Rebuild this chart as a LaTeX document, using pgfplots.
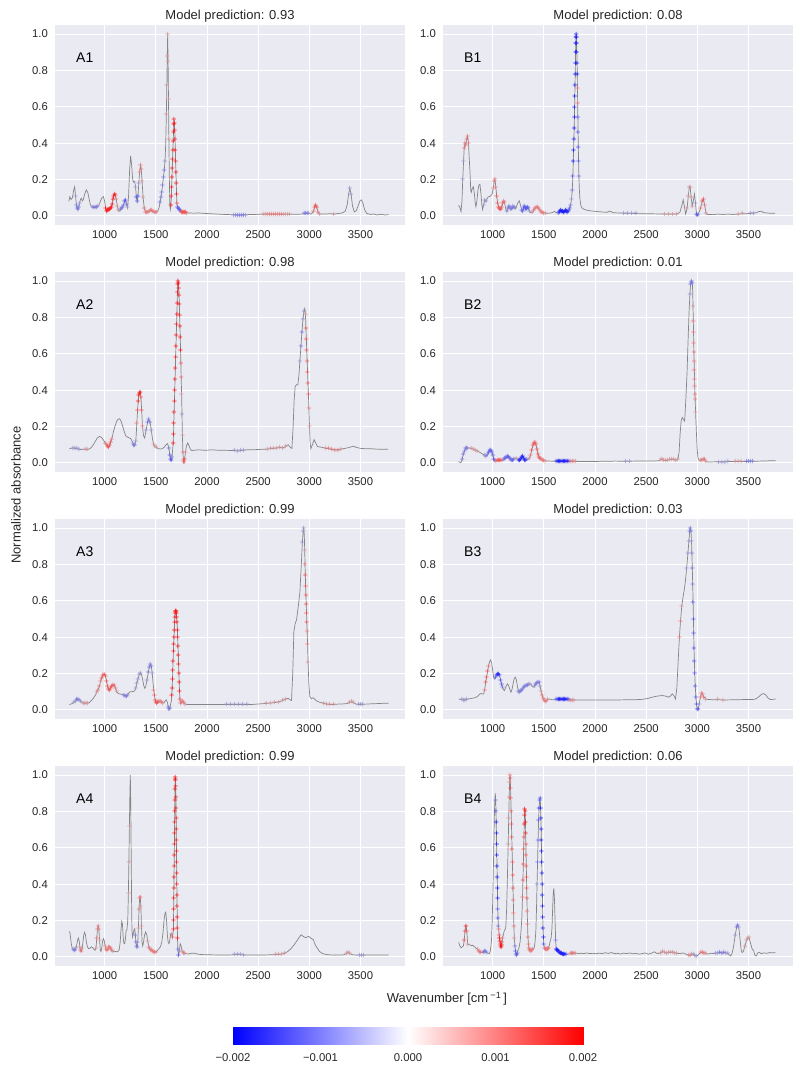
\documentclass[border=0pt]{standalone}
\usepackage{fontspec}
\setmainfont{Liberation Sans}
\usepackage{pgfplots}
\usepackage{pgfplotstable}
\pgfplotsset{compat=1.18}

\definecolor{sbg}{HTML}{EAEAF2}
\definecolor{txt}{HTML}{262626}
\definecolor{specgray}{HTML}{858585}
% attribution colours as they show over the grey spectrum line
\definecolor{bA}{RGB}{20,20,250}
\definecolor{bB}{RGB}{85,85,240}
\definecolor{bC}{RGB}{120,118,225}
\definecolor{bD}{RGB}{152,148,205}
\definecolor{rD}{RGB}{212,148,152}
\definecolor{rC}{RGB}{234,118,120}
\definecolor{rB}{RGB}{242,82,82}
\definecolor{rA}{RGB}{252,18,18}

% spectra: wavenumber, normalized absorbance, attribution (units of 1e-3)
\pgfplotstableread{
x y c
650 0.080 0
660 0.105 0
672 0.090 0
685 0.100 0
697 0.140 0
707 0.160 0
716 0.110 -0.4
724 0.060 -0.8
732 0.040 -0.9
740 0.034 -0.9
748 0.045 -0.8
756 0.070 -0.5
764 0.090 0
772 0.097 0
782 0.082 0
792 0.090 0
805 0.120 0
821 0.143 0
835 0.130 0
848 0.095 0
860 0.062 0
872 0.050 0
884 0.047 -0.4
896 0.046 -0.6
908 0.048 -0.6
920 0.050 -0.6
932 0.052 -0.5
945 0.060 0
958 0.080 0
972 0.098 0
988 0.106 0
1000 0.080 0
1010 0.040 1.5
1018 0.028 2
1026 0.030 2
1034 0.032 2
1042 0.035 2
1050 0.038 2
1058 0.042 2
1066 0.050 2
1074 0.065 2
1082 0.090 2
1090 0.110 2
1098 0.120 1.6
1106 0.112 1.2
1114 0.090 0.8
1124 0.055 0.5
1134 0.030 0.3
1144 0.026 0
1154 0.036 -0.6
1164 0.042 -0.8
1174 0.046 -0.9
1184 0.060 -0.9
1194 0.080 -1
1204 0.088 -1
1214 0.065 -0.8
1224 0.045 -0.4
1234 0.110 0
1244 0.250 0
1254 0.330 0
1264 0.280 0
1274 0.200 0
1284 0.185 0
1294 0.190 0
1302 0.160 -0.4
1310 0.105 -1
1318 0.080 -1.2
1326 0.110 -1
1334 0.180 -0.3
1342 0.240 0.6
1350 0.277 0.8
1358 0.255 0.7
1366 0.190 0.5
1376 0.100 0.3
1388 0.040 0.6
1400 0.022 0.8
1412 0.018 0.8
1424 0.022 0.8
1436 0.028 0.8
1448 0.033 0.8
1460 0.030 0.8
1472 0.024 0.8
1484 0.020 0.8
1496 0.020 0.7
1508 0.022 0.5
1520 0.028 0
1532 0.045 0
1542 0.075 -0.6
1550 0.100 -0.8
1558 0.130 -0.8
1566 0.170 -0.8
1574 0.210 -0.8
1582 0.250 -0.7
1590 0.300 -0.5
1597 0.400 0
1603 0.560 0.5
1608 0.720 0.5
1612 0.880 0.5
1616 1.000 0.4
1620 0.850 0.4
1624 0.640 0.4
1628 0.420 0.3
1632 0.220 0
1637 0.060 0
1642 0.035 0
1648 0.060 2
1652 0.110 2
1655 0.160 2
1658 0.210 2
1661 0.260 2
1664 0.310 2
1667 0.360 2
1670 0.410 2
1673 0.460 2
1676 0.505 2
1679 0.530 2
1682 0.510 2
1685 0.470 2
1688 0.420 2
1691 0.360 2
1694 0.300 2
1697 0.240 2
1700 0.180 2
1703 0.120 2
1706 0.070 1
1712 0.045 -1
1720 0.040 -1.2
1728 0.038 -1.2
1736 0.032 -1
1744 0.026 0.6
1752 0.022 1.2
1760 0.020 1.2
1768 0.020 1.2
1776 0.020 1.2
1784 0.019 1.2
1792 0.018 1
1800 0.017 0.6
1830 0.016 0
1870 0.015 0
1920 0.016 0
1970 0.014 0
2030 0.012 0
2100 0.010 0
2170 0.008 0
2230 0.007 0
2260 0.006 -0.5
2280 0.006 -0.6
2300 0.005 -0.7
2320 0.005 -0.7
2340 0.006 -0.7
2360 0.006 -0.6
2380 0.006 -0.5
2420 0.008 0
2470 0.008 0
2520 0.009 0
2550 0.009 0.4
2570 0.010 0.5
2590 0.010 0.6
2610 0.010 0.6
2630 0.009 0.6
2650 0.010 0.6
2670 0.009 0.6
2690 0.010 0.6
2710 0.009 0.6
2730 0.008 0.6
2750 0.009 0.5
2770 0.010 0.5
2790 0.009 0.5
2810 0.010 0.4
2840 0.009 0
2880 0.009 0
2920 0.010 0
2950 0.012 -0.6
2965 0.013 -0.7
2980 0.013 -0.7
2995 0.012 -0.5
3020 0.010 0
3040 0.025 0.8
3052 0.048 1
3063 0.060 1
3074 0.045 1
3086 0.020 0.8
3100 0.010 0.4
3150 0.010 0
3200 0.012 0
3240 0.010 0.3
3280 0.013 0
3320 0.016 0
3350 0.025 0
3370 0.060 0
3385 0.125 0
3396 0.152 -0.3
3408 0.120 -0.3
3422 0.055 0
3440 0.022 0
3460 0.030 0
3480 0.060 0
3497 0.085 0
3510 0.088 0
3524 0.070 0
3540 0.035 0
3560 0.014 0
3600 0.008 0
3630 0.011 0
3660 0.005 0
3700 0.009 0
3740 0.005 0
3775 0.007 0
}\tabAone

\pgfplotstableread{
x y c
668 0.060 0
680 0.045 0
691 0.024 0
700 0.080 0
708 0.200 -0.5
716 0.300 -0.5
722 0.370 0.6
730 0.400 0.8
738 0.390 0.8
746 0.420 0.8
756 0.437 0.8
764 0.400 0.6
771 0.320 0
779 0.240 0
786 0.140 0
792 0.130 0
800 0.150 0
811 0.160 0
822 0.120 0
830 0.070 0
837 0.050 0
846 0.080 0
856 0.140 0
866 0.170 0
876 0.174 0
886 0.120 0
895 0.060 0
902 0.035 0
912 0.060 -0.3
924 0.088 -0.3
935 0.080 -0.3
946 0.095 0
957 0.105 0
967 0.106 0
980 0.110 0
995 0.120 0
1005 0.150 0.5
1015 0.190 0.6
1023 0.200 0.6
1031 0.160 0.8
1040 0.110 1
1049 0.070 1.2
1057 0.050 1.2
1065 0.040 1.3
1073 0.035 1.3
1081 0.035 1.3
1090 0.050 1.2
1100 0.070 1
1108 0.080 0.8
1116 0.075 0.6
1124 0.050 0
1132 0.030 0
1140 0.024 -0.5
1150 0.040 -0.7
1160 0.052 -0.8
1170 0.045 -0.8
1180 0.035 -0.8
1190 0.040 -0.8
1200 0.052 -0.7
1210 0.046 -0.6
1220 0.040 -0.5
1232 0.050 0
1245 0.070 0
1260 0.083 0
1272 0.060 0
1284 0.030 -0.8
1294 0.028 -1
1302 0.040 -1.1
1310 0.052 -1.1
1318 0.045 -1.1
1326 0.035 -1.1
1334 0.042 -1.1
1342 0.050 -1
1350 0.040 -0.8
1360 0.025 -0.5
1372 0.018 0
1388 0.020 0.5
1402 0.030 0.8
1414 0.040 0.9
1426 0.048 0.9
1438 0.050 0.9
1450 0.040 0.9
1462 0.030 0.9
1474 0.022 0.9
1486 0.018 0.8
1500 0.016 0.6
1520 0.015 0.3
1545 0.015 0
1570 0.016 0
1590 0.020 0
1605 0.025 0
1620 0.018 0
1640 0.016 -0.8
1650 0.020 -1.6
1658 0.026 -1.8
1666 0.030 -1.8
1674 0.028 -1.8
1682 0.024 -1.8
1690 0.020 -1.8
1698 0.022 -1.8
1706 0.026 -1.8
1714 0.030 -1.8
1722 0.025 -1.8
1730 0.022 -1.6
1738 0.024 -1.4
1746 0.030 -1.2
1754 0.040 -1
1762 0.060 -0.6
1770 0.090 -0.5
1778 0.140 -0.8
1784 0.220 -1.2
1788 0.300 -1.8
1791 0.360 -2
1794 0.420 -2
1797 0.480 -2
1799 0.540 -2
1801 0.600 -2
1803 0.660 -2
1805 0.720 -2
1807 0.780 -2
1809 0.840 -2
1811 0.900 -2
1813 0.950 -2
1815 0.980 -2
1817 1.000 -2
1819 0.985 -2
1821 0.950 -2
1823 0.900 -2
1825 0.840 -2
1827 0.780 -1.6
1829 0.700 0.8
1831 0.620 0.6
1833 0.540 -1.2
1835 0.460 -1.4
1837 0.380 -1.2
1840 0.300 -1
1843 0.220 -0.6
1847 0.150 0
1852 0.100 0
1858 0.070 0
1866 0.050 0
1880 0.040 0
1900 0.035 0
1930 0.030 0
1970 0.027 0
2020 0.024 0
2080 0.021 0
2120 0.020 0
2140 0.026 0
2155 0.024 0
2175 0.018 0
2230 0.016 0
2280 0.015 -0.3
2320 0.014 -0.4
2360 0.014 -0.4
2400 0.013 -0.3
2450 0.012 0
2520 0.012 0
2600 0.011 0
2680 0.010 0.3
2720 0.010 0.5
2760 0.010 0.5
2800 0.010 0.4
2830 0.020 0
2850 0.060 0
2862 0.088 0
2874 0.050 0
2886 0.010 0
2900 0.040 0.3
2912 0.110 0.5
2922 0.155 0.5
2930 0.160 0.5
2940 0.100 0.4
2950 0.055 0.3
2960 0.080 0
2972 0.120 0
2982 0.070 -0.5
2992 0.010 -1
3000 0.002 -1
3010 0.010 -0.5
3030 0.040 0.8
3048 0.080 1
3060 0.090 1
3072 0.060 0.8
3085 0.015 0.5
3100 0.008 0
3150 0.007 0
3200 0.010 0
3250 0.008 0
3300 0.010 0
3350 0.008 0
3400 0.010 0.4
3440 0.012 0.5
3480 0.012 0
3520 0.014 -0.4
3550 0.015 -0.3
3580 0.018 0
3600 0.024 0
3620 0.026 0
3650 0.018 0
3700 0.015 0
3760 0.015 0
}\tabBone

\pgfplotstableread{
x y c
655 0.078 0
670 0.080 0
690 0.082 -0.4
710 0.080 -0.5
730 0.078 -0.5
750 0.076 -0.4
770 0.073 0
790 0.075 0
810 0.075 0.3
830 0.074 0.3
850 0.076 0
870 0.085 0
890 0.100 0
910 0.120 0
930 0.138 0
951 0.146 0
970 0.140 0
990 0.125 0
1005 0.110 0.5
1016 0.100 0.8
1028 0.090 1
1039 0.086 1.2
1050 0.095 1.2
1060 0.115 1
1070 0.130 0.6
1085 0.170 0
1100 0.200 0
1115 0.225 0
1130 0.240 0
1147 0.243 0
1160 0.230 0
1175 0.205 0
1190 0.175 0
1205 0.150 0
1215 0.145 0
1230 0.140 0
1245 0.137 0
1260 0.130 0
1275 0.110 -0.4
1285 0.098 -0.7
1295 0.095 -0.7
1305 0.120 -0.3
1315 0.220 0.8
1322 0.290 1.2
1328 0.340 1.5
1334 0.370 1.6
1341 0.385 1.6
1348 0.390 1.5
1355 0.360 1.3
1362 0.290 1
1370 0.200 0.6
1380 0.150 0
1391 0.137 0
1405 0.180 -0.4
1420 0.225 -0.6
1432 0.238 -0.7
1444 0.225 -0.7
1456 0.180 -0.5
1468 0.130 0
1480 0.100 0.4
1492 0.090 0.5
1505 0.085 0.4
1520 0.080 0
1540 0.076 0
1560 0.078 0
1580 0.085 0
1600 0.100 0
1615 0.106 0
1628 0.080 -0.6
1638 0.040 -1
1646 0.018 -1
1652 0.015 -1
1658 0.030 -0.8
1664 0.070 0
1670 0.110 1.5
1673 0.160 2
1676 0.220 2
1679 0.280 2
1682 0.340 2
1685 0.400 2
1688 0.460 2
1691 0.520 2
1694 0.580 2
1697 0.640 2
1700 0.700 2
1703 0.760 2
1706 0.820 2
1709 0.880 2
1712 0.940 2
1715 0.980 2
1718 1.000 2
1721 0.990 2
1724 0.960 2
1727 0.920 2
1730 0.870 2
1733 0.810 2
1736 0.750 2
1739 0.690 1.8
1742 0.620 1.6
1745 0.550 1.2
1748 0.470 0.8
1752 0.380 0.4
1756 0.270 -0.4
1760 0.150 0.3
1765 0.060 0.8
1770 0.015 1.2
1776 0.002 1.2
1782 0.020 1
1790 0.060 0.5
1800 0.095 0
1812 0.110 0
1825 0.095 0
1838 0.075 0
1850 0.068 0
1880 0.070 0
1920 0.072 0
1960 0.070 0
2000 0.070 0
2050 0.072 0
2100 0.070 0
2150 0.070 0
2200 0.069 0
2240 0.068 0
2270 0.068 -0.3
2300 0.066 -0.5
2330 0.068 -0.5
2360 0.070 -0.4
2390 0.072 0
2430 0.072 0
2470 0.073 0
2510 0.074 0
2550 0.075 0
2590 0.076 0.3
2620 0.078 0.5
2650 0.080 0.5
2680 0.082 0.5
2710 0.085 0.5
2740 0.083 0.4
2770 0.090 0.3
2793 0.100 0
2815 0.085 0
2830 0.080 0
2842 0.200 0
2852 0.350 0
2862 0.420 0
2874 0.430 0
2888 0.430 0
2898 0.480 0
2908 0.560 -0.5
2918 0.640 -0.6
2928 0.720 -0.6
2938 0.790 -0.5
2948 0.835 -0.3
2956 0.850 0
2962 0.820 0.5
2967 0.740 1
2971 0.680 1.2
2975 0.620 1.3
2979 0.560 1.3
2983 0.500 1.3
2987 0.440 1.2
2991 0.380 1
2996 0.300 0.7
3002 0.200 0.4
3008 0.110 0
3015 0.078 0
3030 0.100 0
3047 0.128 0
3062 0.110 0
3080 0.090 0
3100 0.088 0
3130 0.085 0
3160 0.080 0.4
3190 0.078 0.6
3220 0.074 0.6
3250 0.072 0.6
3280 0.072 0.6
3310 0.076 0.4
3350 0.080 0
3390 0.085 0
3430 0.092 0
3460 0.085 0
3500 0.080 0
3550 0.078 0
3600 0.078 0
3650 0.076 0
3700 0.075 0
3770 0.075 0
}\tabAtwo

\pgfplotstableread{
x y c
668 0.008 0
680 0.003 0
691 0.002 0
702 0.020 -0.6
712 0.045 -0.8
724 0.065 -0.8
735 0.078 -0.7
746 0.082 -0.6
756 0.083 -0.4
770 0.082 0
790 0.080 0.3
810 0.076 0.4
830 0.071 0.4
850 0.066 0.3
870 0.060 0
890 0.053 0
905 0.048 0
920 0.040 -0.4
935 0.037 -0.6
950 0.045 -0.8
962 0.058 -1
974 0.068 -1.2
984 0.070 -1.3
994 0.060 -1.4
1004 0.040 -1.4
1012 0.020 -1.2
1020 0.012 -0.8
1032 0.010 0.8
1045 0.014 1.2
1058 0.016 1.2
1070 0.015 1.2
1082 0.012 1
1095 0.014 0.5
1110 0.018 -0.8
1122 0.025 -1
1134 0.030 -1.2
1146 0.034 -1.2
1158 0.032 -1.2
1170 0.025 -1.2
1182 0.016 -1.2
1194 0.012 -1
1206 0.018 -0.6
1218 0.026 0
1230 0.028 0.4
1242 0.022 0
1254 0.014 -1.2
1264 0.012 -1.5
1274 0.020 -1.6
1284 0.030 -1.6
1294 0.035 -1.6
1304 0.028 -1.6
1314 0.016 -1.5
1324 0.012 -1.2
1334 0.018 -0.8
1346 0.020 0
1358 0.024 0.5
1370 0.040 0.9
1382 0.070 1
1394 0.095 1
1404 0.108 1
1414 0.112 1
1424 0.100 1
1434 0.075 1
1444 0.050 1
1454 0.032 1
1464 0.024 1
1476 0.018 0.9
1488 0.015 0.8
1500 0.013 0.6
1515 0.011 0.4
1535 0.010 0
1560 0.010 0
1590 0.009 0
1620 0.009 -0.6
1632 0.009 -1.5
1644 0.009 -1.8
1656 0.009 -1.8
1668 0.009 -1.8
1680 0.009 -1.8
1692 0.009 -1.8
1704 0.009 -1.8
1716 0.009 -1.8
1728 0.009 -1.6
1740 0.009 -1.2
1752 0.008 0.4
1766 0.008 0.6
1780 0.008 0.6
1795 0.008 0.5
1810 0.008 0.3
1840 0.008 0
1900 0.008 0
1960 0.008 0
2020 0.008 0
2080 0.009 0
2140 0.009 0
2200 0.010 0
2260 0.009 0
2300 0.009 -0.3
2340 0.009 -0.3
2380 0.010 0
2440 0.010 0
2500 0.010 0
2560 0.010 0
2600 0.011 0
2625 0.012 0
2645 0.018 0.3
2657 0.020 0.4
2670 0.016 0.3
2690 0.012 0.3
2710 0.014 0.3
2730 0.018 0.4
2750 0.020 0.5
2770 0.018 0.5
2790 0.015 0.5
2810 0.018 0.4
2822 0.060 0
2832 0.160 0
2842 0.230 0
2852 0.250 0
2864 0.240 0
2876 0.230 0
2888 0.350 0
2900 0.500 0
2910 0.680 0
2920 0.840 0
2928 0.930 -0.5
2934 0.980 -0.8
2940 0.995 -0.8
2946 1.000 -0.8
2951 0.990 -0.6
2955 0.940 0
2958 0.860 0.4
2961 0.780 0.6
2963 0.720 0.8
2965 0.660 0.9
2967 0.610 0.9
2969 0.560 0.9
2971 0.510 0.9
2973 0.460 0.9
2975 0.420 0.9
2977 0.380 0.9
2979 0.350 0.8
2983 0.280 0.5
2990 0.180 0
2998 0.080 0
3006 0.030 0
3015 0.016 0
3030 0.012 0.4
3045 0.016 0.6
3058 0.022 0.7
3070 0.020 0.6
3082 0.010 0.4
3095 0.005 0
3130 0.005 0
3170 0.006 0
3210 0.006 -0.3
3240 0.006 -0.5
3270 0.006 -0.5
3300 0.007 -0.4
3340 0.008 0
3370 0.008 0.4
3400 0.008 0.5
3430 0.008 0.4
3460 0.008 0
3480 0.008 -0.6
3500 0.008 -0.8
3520 0.009 -0.8
3540 0.009 -0.6
3570 0.009 0
3620 0.010 0
3680 0.011 0
3720 0.012 0
3765 0.012 0
}\tabBtwo

\pgfplotstableread{
x y c
655 0.030 0
670 0.032 0
685 0.036 0
700 0.042 -0.3
715 0.050 -0.5
728 0.056 -0.6
740 0.058 -0.6
752 0.055 -0.5
765 0.048 -0.3
778 0.042 0
790 0.038 0.3
805 0.036 0.4
820 0.036 0.4
835 0.038 0.3
850 0.040 0
865 0.048 0
880 0.058 0
895 0.068 0
910 0.082 0
922 0.095 0.4
935 0.110 0.6
948 0.130 0.8
960 0.155 0.9
972 0.175 1
985 0.190 1
997 0.195 1
1008 0.185 1
1018 0.160 1
1028 0.130 1
1038 0.112 1
1048 0.110 1
1058 0.120 1
1070 0.130 1
1082 0.137 1
1094 0.135 0.8
1106 0.120 0.6
1118 0.100 0.4
1130 0.092 0
1145 0.088 0
1160 0.086 0
1175 0.086 0
1190 0.080 -0.6
1202 0.077 -0.7
1214 0.076 -0.7
1226 0.082 -0.5
1238 0.095 0
1250 0.100 0
1265 0.100 0
1280 0.102 0
1293 0.104 0
1305 0.120 -0.4
1315 0.145 -0.5
1326 0.170 -0.5
1338 0.195 -0.4
1350 0.204 -0.3
1360 0.195 0
1372 0.165 0
1384 0.130 0
1392 0.119 0
1402 0.130 0
1414 0.165 -0.5
1426 0.205 -0.6
1436 0.235 -0.7
1446 0.250 -0.7
1456 0.240 -0.6
1465 0.200 -0.4
1473 0.150 0
1480 0.110 0.8
1487 0.080 1
1494 0.055 1.2
1502 0.040 1.2
1510 0.035 1.2
1520 0.040 1
1532 0.046 0.9
1544 0.048 0.8
1556 0.044 0.6
1568 0.038 0.4
1580 0.040 0
1592 0.050 0
1603 0.055 0
1614 0.040 0
1622 0.015 -0.6
1630 0.002 -0.8
1638 0.010 -0.6
1646 0.035 0
1652 0.050 0
1657 0.080 1.5
1660 0.120 2
1663 0.170 2
1666 0.220 2
1669 0.270 2
1672 0.320 2
1675 0.360 2
1678 0.400 2
1681 0.440 2
1684 0.480 2
1687 0.510 2
1690 0.530 2
1693 0.540 2
1696 0.545 2
1699 0.540 2
1702 0.530 2
1705 0.510 2
1708 0.480 2
1711 0.440 2
1714 0.400 2
1717 0.350 2
1720 0.300 2
1723 0.250 2
1726 0.200 2
1729 0.150 2
1732 0.100 1.6
1736 0.060 1
1742 0.036 0.6
1752 0.042 0.8
1762 0.045 0.8
1772 0.040 0.6
1785 0.033 0.4
1800 0.030 0
1840 0.030 0
1900 0.030 0
1960 0.030 0
2020 0.030 0
2080 0.030 0
2140 0.030 0
2190 0.030 -0.3
2230 0.030 -0.5
2270 0.030 -0.5
2310 0.030 -0.5
2350 0.030 -0.5
2390 0.030 -0.3
2440 0.030 0
2490 0.032 0
2540 0.034 0
2580 0.036 0.4
2620 0.038 0.5
2660 0.040 0.5
2700 0.044 0.5
2740 0.052 0.5
2770 0.060 0.4
2793 0.064 0
2812 0.055 0
2826 0.052 0
2838 0.200 0
2849 0.430 0
2862 0.475 0
2875 0.495 0
2890 0.560 0
2907 0.640 0
2920 0.780 0
2932 0.920 -0.4
2940 0.985 -0.5
2946 1.000 -0.5
2951 0.960 0
2955 0.880 0.5
2958 0.800 0.9
2961 0.740 1
2964 0.680 1
2967 0.630 1
2970 0.580 1
2973 0.530 1
2976 0.480 1
2979 0.430 0.9
2983 0.360 0.7
2988 0.260 0.4
2995 0.150 0
3005 0.073 0
3020 0.062 0
3037 0.067 0
3055 0.058 0
3075 0.048 0
3103 0.042 0
3140 0.036 0.3
3170 0.032 0.4
3200 0.030 0.4
3240 0.030 0.3
3280 0.032 0
3330 0.033 0
3370 0.035 0
3395 0.042 0.4
3412 0.045 0.5
3430 0.040 0.3
3455 0.032 0
3480 0.030 -0.4
3500 0.030 -0.5
3520 0.031 -0.4
3560 0.032 0
3620 0.034 0
3680 0.035 0
3740 0.037 0
3775 0.036 0
}\tabAthree

\pgfplotstableread{
x y c
668 0.060 0
685 0.058 0
700 0.056 -0.3
715 0.055 -0.4
730 0.055 -0.4
745 0.057 -0.3
760 0.060 0
780 0.062 0
800 0.064 0
820 0.066 0
840 0.070 0
860 0.078 0
876 0.088 0
888 0.090 0
900 0.087 0
912 0.088 0
922 0.110 0.8
932 0.150 1
941 0.180 1
950 0.210 1
960 0.240 0.6
970 0.265 0
980 0.275 0
990 0.260 0
1000 0.220 0
1010 0.180 0
1018 0.170 0
1028 0.180 -1
1038 0.190 -1.4
1048 0.196 -1.5
1058 0.198 -1.5
1068 0.190 -1.4
1078 0.165 -1.2
1088 0.140 -1
1097 0.124 -0.8
1106 0.112 0
1114 0.106 0
1124 0.118 0
1135 0.135 0
1146 0.143 0
1158 0.130 0
1170 0.110 0
1179 0.097 0
1190 0.115 0
1200 0.145 0
1211 0.172 0
1221 0.180 0
1232 0.165 0
1242 0.130 0
1251 0.105 -0.5
1260 0.097 -0.7
1270 0.100 -0.8
1280 0.107 -0.9
1292 0.115 -0.9
1304 0.122 -0.9
1316 0.128 -0.9
1328 0.133 -0.8
1340 0.138 -0.6
1352 0.142 -0.4
1364 0.143 -0.3
1374 0.143 0
1386 0.130 0
1396 0.125 0
1408 0.130 -0.4
1420 0.140 -0.6
1432 0.148 -0.7
1444 0.152 -0.7
1455 0.150 -0.6
1464 0.130 -0.3
1474 0.100 0.5
1484 0.080 0.8
1494 0.062 0.9
1504 0.052 0.9
1514 0.048 0.8
1524 0.050 0.6
1536 0.056 0.4
1550 0.060 0
1565 0.058 0
1585 0.056 0
1605 0.056 0
1620 0.056 -0.6
1632 0.056 -1.2
1644 0.056 -1.5
1656 0.056 -1.6
1668 0.056 -1.6
1680 0.056 -1.6
1692 0.056 -1.6
1704 0.056 -1.6
1716 0.056 -1.5
1728 0.056 -1.3
1740 0.056 -1
1752 0.055 0.4
1765 0.055 0.6
1780 0.055 0.5
1795 0.055 0.3
1830 0.055 0
1900 0.055 0
1970 0.055 0
2040 0.055 0
2110 0.055 0
2180 0.055 0
2250 0.055 0
2320 0.056 0
2390 0.056 0
2460 0.058 0
2510 0.062 0
2560 0.070 0
2610 0.076 0
2657 0.079 0
2690 0.076 0
2722 0.070 0
2740 0.078 0
2755 0.088 0
2770 0.080 0
2787 0.060 0
2800 0.120 0
2813 0.270 0
2825 0.400 0.6
2836 0.490 0.7
2848 0.570 0.5
2860 0.620 0
2872 0.660 0
2884 0.710 0
2896 0.780 -0.3
2908 0.860 -0.4
2918 0.930 -0.5
2926 0.985 -0.6
2932 1.000 -0.6
2938 0.985 -0.6
2943 0.930 -0.5
2947 0.860 -0.6
2951 0.780 -0.8
2955 0.690 -0.9
2959 0.590 -1
2962 0.500 -1
2965 0.420 -1
2968 0.340 -1
2971 0.270 -1
2975 0.200 -1
2980 0.130 -1
2986 0.070 -1.2
2993 0.030 -1.2
3000 0.006 -1.2
3008 0.001 -1
3018 0.030 -0.4
3030 0.070 0.6
3041 0.090 0.8
3052 0.085 0.8
3064 0.072 0.6
3081 0.060 0.4
3100 0.058 0
3150 0.056 0
3200 0.056 0.3
3250 0.055 0.3
3300 0.055 0
3350 0.056 0
3400 0.056 0
3450 0.057 0
3500 0.057 0
3540 0.057 0
3570 0.060 0
3600 0.072 0
3625 0.085 0
3649 0.090 0
3670 0.082 0
3690 0.066 0
3714 0.057 0
3740 0.058 0
3765 0.060 0
}\tabBthree

\pgfplotstableread{
x y c
655 0.140 0
662 0.130 0
670 0.090 0
678 0.060 0
686 0.045 0
694 0.040 -0.5
702 0.036 -0.6
710 0.038 -0.6
718 0.045 -0.5
726 0.060 0
735 0.090 0
743 0.104 0
751 0.090 0
758 0.055 0.5
765 0.035 0.6
772 0.030 0.6
780 0.045 0.4
788 0.080 0
796 0.120 0
804 0.135 0
813 0.120 0
822 0.080 0
832 0.055 0
842 0.046 0
853 0.045 0
863 0.052 0
873 0.056 0
883 0.050 0
895 0.042 0
906 0.036 0
916 0.050 0.4
923 0.100 0.6
930 0.150 0.6
937 0.170 0.6
944 0.150 0.5
951 0.090 0.3
958 0.035 0
965 0.030 0
972 0.050 0
980 0.085 0
988 0.100 0
996 0.090 0
1005 0.060 0.3
1014 0.040 0.6
1023 0.036 0.8
1032 0.042 0.8
1041 0.052 0.8
1050 0.055 0.8
1060 0.045 0.8
1070 0.035 0.6
1082 0.030 0.5
1094 0.028 0
1106 0.030 0
1118 0.028 0
1130 0.030 0
1142 0.040 0
1152 0.080 0
1160 0.150 0
1167 0.195 0
1174 0.180 0
1181 0.110 0
1188 0.075 0
1196 0.073 0
1203 0.100 0
1210 0.145 0
1218 0.150 0
1226 0.200 0
1232 0.350 0.4
1237 0.520 0.4
1242 0.720 0.3
1247 0.900 0
1251 1.000 0
1255 0.850 0
1259 0.600 0
1263 0.320 0
1267 0.150 0
1272 0.110 0
1280 0.130 0
1288 0.150 0
1294 0.155 0
1300 0.120 -0.6
1306 0.080 -0.8
1312 0.060 -0.9
1318 0.055 -0.9
1324 0.080 -0.5
1330 0.160 0.5
1336 0.260 0.6
1342 0.320 0.6
1348 0.330 0.6
1354 0.280 0.5
1360 0.170 0.3
1366 0.080 0
1372 0.060 0
1380 0.080 0
1390 0.120 0
1401 0.137 0
1412 0.120 0
1422 0.085 0.3
1432 0.055 0.5
1442 0.045 0.6
1452 0.038 0.7
1462 0.034 0.7
1472 0.030 0.7
1482 0.028 0.7
1492 0.027 0.6
1502 0.028 0.4
1515 0.035 0
1530 0.045 0
1545 0.055 0
1558 0.080 0
1570 0.130 0
1580 0.200 0
1590 0.240 0
1597 0.246 0
1605 0.200 0
1613 0.120 0
1621 0.080 0
1629 0.073 0
1636 0.090 0
1642 0.115 0
1648 0.128 0
1654 0.125 0.5
1662 0.110 1
1672 0.150 2
1673.2 0.200 2
1674.4 0.260 2
1675.6 0.320 2
1676.8 0.380 2
1678 0.440 2
1679.2 0.500 2
1680.4 0.560 2
1681.6 0.620 2
1682.8 0.680 2
1684 0.740 2
1685.2 0.800 2
1686.4 0.860 2
1687.6 0.920 2
1689 0.970 2
1691 0.990 2
1693 0.975 2
1695 0.940 2
1696.2 0.880 2
1697.4 0.820 2
1698.6 0.760 2
1699.8 0.700 2
1701 0.640 2
1702.2 0.580 2
1703.4 0.520 2
1704.6 0.460 2
1705.8 0.400 2
1707 0.340 2
1708.2 0.280 2
1709.4 0.220 2
1710.6 0.160 2
1712 0.100 1.5
1716 0.040 -0.8
1722 0.010 -1
1730 0.030 -0.5
1738 0.073 0
1748 0.060 0
1758 0.030 0.5
1770 0.022 0.6
1780 0.020 0.5
1795 0.018 0
1820 0.016 0
1850 0.020 0
1880 0.020 0
1910 0.015 0
1950 0.013 0
2000 0.012 0
2080 0.011 0
2160 0.011 0
2230 0.011 0
2270 0.012 -0.3
2300 0.013 -0.5
2330 0.012 -0.5
2360 0.011 -0.3
2420 0.011 0
2500 0.011 0
2580 0.011 0
2640 0.012 0
2670 0.012 0.3
2700 0.014 0.5
2730 0.016 0.5
2760 0.020 0.4
2790 0.030 0
2820 0.045 0
2850 0.065 0
2880 0.090 0
2905 0.110 0
2920 0.122 0
2935 0.115 0
2950 0.110 0
2965 0.106 0
2980 0.110 0
2995 0.113 0
3010 0.105 0
3025 0.100 0
3040 0.095 0
3055 0.070 0
3075 0.050 0
3100 0.030 0
3130 0.018 0
3180 0.012 0
3240 0.010 0
3300 0.010 0
3340 0.012 0
3365 0.020 0.4
3380 0.024 0.5
3395 0.018 0.4
3420 0.012 0
3460 0.010 0
3490 0.010 -0.4
3510 0.010 -0.5
3530 0.010 -0.4
3560 0.010 0
3620 0.011 0
3680 0.010 0
3740 0.011 0
3775 0.010 0
}\tabAfour

\pgfplotstableread{
x y c
668 0.080 0
680 0.060 0
691 0.050 0
702 0.055 0
714 0.060 0
722 0.090 1
730 0.140 1.4
740 0.170 1.5
748 0.140 1.2
756 0.070 0.4
768 0.068 0
780 0.066 0
792 0.062 0
805 0.064 0
818 0.058 0
830 0.052 0
842 0.046 0
854 0.042 0.4
866 0.032 0.6
876 0.026 0.7
886 0.024 0.7
898 0.024 0
910 0.028 -0.6
920 0.033 -0.8
929 0.033 -0.8
938 0.028 -0.6
948 0.022 0
958 0.018 0
967 0.018 0
976 0.030 0
984 0.060 0
990 0.106 0
996 0.200 0
1001 0.320 0
1006 0.450 0
1011 0.600 0
1016 0.750 0
1021 0.860 0
1026 0.900 0
1030 0.860 -0.8
1033 0.800 -1.2
1035 0.740 -1.5
1037 0.680 -1.8
1039 0.620 -1.8
1041 0.560 -1.8
1043 0.500 -1.8
1045 0.440 -1.8
1047 0.380 -1.8
1049 0.320 -1.6
1051 0.260 -1.4
1053 0.210 -1.2
1056 0.170 -0.8
1060 0.150 0.6
1064 0.120 1.2
1068 0.100 1.5
1072 0.085 1.6
1076 0.070 1.6
1080 0.060 1.6
1084 0.055 1.6
1088 0.065 1.5
1092 0.080 1.2
1097 0.100 0.8
1104 0.120 0
1112 0.140 0
1120 0.150 0
1128 0.160 0
1136 0.250 0
1142 0.380 0
1147 0.500 0
1152 0.620 0.3
1157 0.760 0.4
1162 0.880 0.5
1166 0.960 0.6
1169 1.000 0.8
1172 0.980 1
1175 0.930 1
1178 0.870 1
1181 0.800 1
1184 0.730 1
1187 0.660 1
1190 0.590 1
1193 0.520 1
1196 0.450 1
1199 0.380 1
1202 0.310 0.9
1205 0.240 0.8
1208 0.170 0.6
1212 0.100 0.3
1218 0.060 -0.6
1224 0.030 -1
1230 0.012 -1.2
1236 0.010 -1.2
1242 0.020 -0.8
1250 0.040 0
1260 0.055 0
1270 0.090 0
1278 0.150 0
1286 0.220 0
1292 0.330 0.8
1296 0.420 1
1300 0.510 1.2
1303 0.590 1.3
1306 0.660 1.4
1309 0.730 1.5
1312 0.780 1.5
1315 0.810 1.5
1318 0.800 1.5
1321 0.740 1.5
1323 0.680 1.5
1325 0.620 1.4
1327 0.560 1.3
1329 0.500 1.2
1331 0.440 1.1
1333 0.380 1
1335 0.320 1
1338 0.250 0.9
1341 0.180 0.8
1345 0.110 0.7
1350 0.070 0.7
1356 0.045 0.8
1362 0.036 0.9
1368 0.034 0.9
1374 0.033 0.9
1382 0.038 0.8
1390 0.042 0.6
1398 0.045 0
1406 0.050 0
1414 0.080 0
1422 0.140 0
1428 0.250 0
1434 0.400 -0.4
1439 0.520 -0.6
1444 0.640 -0.8
1449 0.750 -1
1454 0.820 -1
1460 0.860 -1
1465 0.870 -1.2
1469 0.820 -1.6
1472 0.760 -1.8
1474 0.700 -2
1476 0.640 -2
1478 0.580 -2
1480 0.520 -2
1482 0.460 -2
1484 0.400 -2
1486 0.340 -2
1488 0.280 -2
1490 0.220 -2
1493 0.160 -1.8
1496 0.110 -1.5
1500 0.070 -1
1506 0.050 -0.5
1512 0.045 0.6
1518 0.042 0.8
1524 0.040 0.9
1530 0.040 0.9
1536 0.042 0.9
1542 0.045 0.8
1548 0.050 0.6
1556 0.070 0
1564 0.090 0
1572 0.106 0
1580 0.160 0
1586 0.260 0
1592 0.350 0
1598 0.377 0
1604 0.320 0
1610 0.200 0
1616 0.090 -0.8
1622 0.040 -1.6
1628 0.036 -1.8
1636 0.035 -1.8
1644 0.030 -1.8
1652 0.025 -1.8
1660 0.022 -1.8
1668 0.020 -1.8
1676 0.018 -1.8
1684 0.016 -1.8
1692 0.015 -1.8
1700 0.015 -1.6
1710 0.015 -1.2
1720 0.014 -0.6
1740 0.015 0
1760 0.018 0.5
1772 0.020 0.8
1784 0.022 0.8
1796 0.020 0.8
1808 0.018 0.5
1830 0.018 0
1860 0.020 0
1890 0.018 0
1920 0.022 0
1950 0.018 0
1980 0.020 0
2010 0.017 0
2040 0.021 0
2070 0.018 0
2100 0.023 0
2130 0.019 0
2160 0.024 0
2190 0.018 0
2220 0.020 0
2250 0.016 0
2280 0.021 0
2310 0.018 0
2340 0.022 0
2370 0.017 0
2400 0.020 0
2430 0.015 0
2460 0.018 0
2490 0.022 0
2520 0.015 0
2550 0.020 0
2580 0.028 0
2610 0.018 0
2640 0.022 0.3
2660 0.030 0.5
2680 0.025 0.5
2700 0.020 0.5
2720 0.026 0.5
2740 0.024 0.5
2760 0.028 0.5
2780 0.022 0.5
2800 0.020 0.4
2830 0.018 0
2860 0.022 0
2890 0.015 0
2915 0.010 0.5
2930 0.008 0.6
2945 0.012 0.5
2960 0.015 -0.3
2975 0.008 -0.5
2990 0.005 -0.5
3005 0.010 0
3020 0.018 0
3035 0.024 0.6
3050 0.026 0.7
3065 0.022 0.7
3080 0.020 0.5
3100 0.015 0
3130 0.020 0
3160 0.018 0
3180 0.022 -0.4
3200 0.020 -0.5
3220 0.026 -0.6
3240 0.020 -0.6
3260 0.024 -0.6
3280 0.022 -0.5
3300 0.018 -0.4
3315 0.010 0
3325 0.005 0
3340 0.020 0
3355 0.060 0
3370 0.120 -0.4
3385 0.165 -0.6
3395 0.176 -0.6
3405 0.165 -0.5
3415 0.110 0
3428 0.040 0
3437 0.024 0
3450 0.030 0
3465 0.060 0.4
3480 0.090 0.5
3495 0.104 0.5
3505 0.106 0.4
3518 0.080 0
3535 0.045 0
3551 0.033 0
3562 0.010 0
3575 0.005 0
3590 0.022 0
3605 0.025 0
3625 0.018 0
3650 0.022 0
3680 0.020 0
3710 0.024 0
3740 0.022 0
3762 0.024 0
}\tabBfour

\pgfplotsset{
  % diverging scale for the colour bar
  colormap={bwr}{rgb255=(0,0,255) rgb255=(255,255,255) rgb255=(255,0,0)},
  sns/.style={
    scale only axis, width=350pt, height=200pt,
    anchor=south west,
    xmin=515, xmax=3935, ymin=-0.05, ymax=1.05,
    axis background/.style={fill=sbg},
    axis line style={draw=none},
    major tick length=0pt,
    grid=major, major grid style={white, line width=0.9pt},
    xtick={1000,1500,2000,2500,3000,3500},
    ytick={0,0.2,0.4,0.6,0.8,1},
    scaled ticks=false,
    /pgf/number format/assume math mode=true,
    /pgf/number format/1000 sep={},
    y tick label style={/pgf/number format/fixed, /pgf/number format/fixed zerofill, /pgf/number format/precision=1},
    tick label style={font=\fontsize{11.3}{13}\selectfont, text=txt, inner sep=0pt},
    x tick label style={yshift=-5.5pt},
    y tick label style={xshift=-7pt},
    title style={font=\fontsize{13}{15}\selectfont, text=txt, at={(0.5,1)}, anchor=base, yshift=-0.5pt},
  },
  specline/.style={specgray, line width=0.7pt, no markers},
}
\tikzset{panellabel/.style={anchor=base west, inner sep=0pt, font=\fontsize{14}{16}\selectfont, text=black}}

% "+" markers of one attribution band: colour, lower and upper attribution, table
\newcommand\attrband[4]{%
  \addplot[draw=none, mark=none,
    restrict expr to domain={\thisrow{c}}{#2:#3},
    nodes near coords={+},
    every node near coord/.style={anchor=center, inner sep=0pt, outer sep=0pt,
      yshift=-0.6pt, text=#1, font=\fontsize{9}{9}\selectfont}]
    table[x=x,y=y]{#4};}

% one spectrum panel: x, y of lower left corner, prediction, label, table
\newcommand\panel[5]{%
  \begin{axis}[sns, at={(#1pt,#2pt)}, title={Model prediction: #3}]
    \addplot[specline] table[x=x,y=y]{#5};
    \attrband{bD}{-0.55}{-0.05}{#5}
    \attrband{rD}{0.05}{0.55}{#5}
    \attrband{bC}{-0.95}{-0.55}{#5}
    \attrband{rC}{0.55}{0.95}{#5}
    \attrband{bB}{-1.45}{-0.95}{#5}
    \attrband{rB}{0.95}{1.45}{#5}
    \attrband{bA}{-2.5}{-1.45}{#5}
    \attrband{rA}{1.45}{2.5}{#5}
    \node[panellabel] at (rel axis cs:0.06,0.81) {#4};
  \end{axis}}

\begin{document}
\begin{tikzpicture}
\path[use as bounding box] (0,0) rectangle (800pt,1069pt);

\panel{55}{844}{0.93}{A1}{\tabAone}
\panel{443}{844}{0.08}{B1}{\tabBone}
\panel{55}{597}{0.98}{A2}{\tabAtwo}
\panel{443}{597}{0.01}{B2}{\tabBtwo}
\panel{55}{350}{0.99}{A3}{\tabAthree}
\panel{443}{350}{0.03}{B3}{\tabBthree}
\panel{55}{103}{0.99}{A4}{\tabAfour}
\panel{443}{103}{0.06}{B4}{\tabBfour}

\node[rotate=90, font=\fontsize{13}{15}\selectfont, text=txt] at (16pt,574pt) {Normalized absorbance};
\node[font=\fontsize{13}{15}\selectfont, text=txt] at (447pt,70pt) {Wavenumber [cm\,\textsuperscript{−1}\,]};

% colour scale of the attributions
\begin{axis}[
  at={(233pt,25pt)}, anchor=south west,
  scale only axis, width=350pt, height=17pt,
  view={0}{90},
  xmin=-0.002, xmax=0.002, ymin=0, ymax=1,
  axis line style={draw=none}, major tick length=0pt,
  ytick=\empty, ztick=\empty,
  xtick={-0.002,-0.001,0,0.001,0.002},
  xticklabels={−0.002,−0.001,0.000,0.001,0.002},
  scaled x ticks=false,
  xtick pos=left,
  x tick label style={font=\fontsize{11.3}{13}\selectfont, text=txt, inner sep=0pt, yshift=-9.5pt},
  colormap name=bwr, point meta min=-0.002, point meta max=0.002,
]
\addplot3[surf, shader=interp, point meta=x, mesh/cols=5] coordinates {
(-0.002,0,0) (-0.001,0,0) (0,0,0) (0.001,0,0) (0.002,0,0)
(-0.002,1,0) (-0.001,1,0) (0,1,0) (0.001,1,0) (0.002,1,0)
};
\end{axis}
\end{tikzpicture}
\end{document}
